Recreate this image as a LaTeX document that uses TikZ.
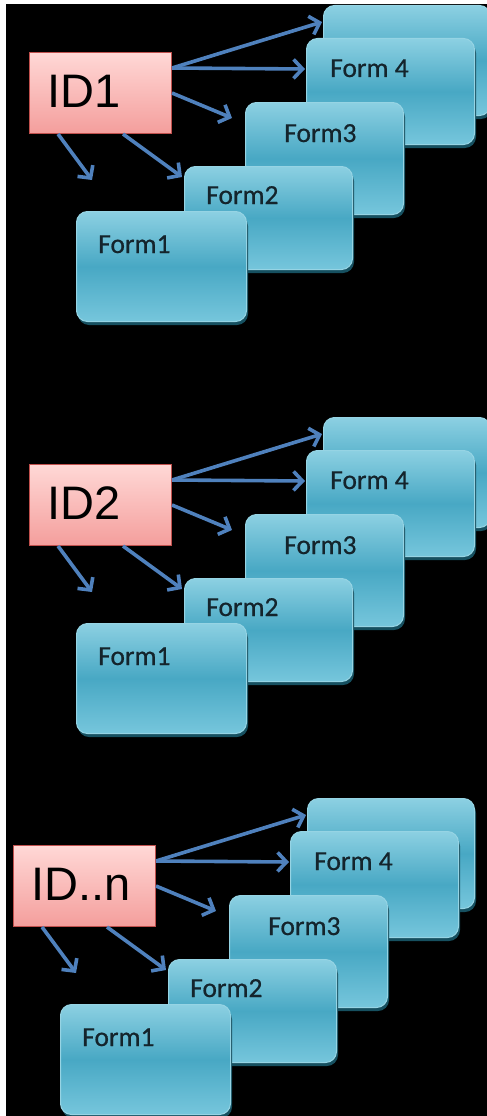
\documentclass[tikz,border=0pt]{standalone}
\usepackage{fontspec}
\setmainfont{Carlito}
\newfontfamily\formfont[FakeBold=0.6]{Carlito}
\newfontfamily\arialfont{Liberation Sans}
\usetikzlibrary{arrows.meta,shadows,calc}
\definecolor{arrowblue}{RGB}{79,129,189}
\definecolor{boxtop}{RGB}{140,208,226}
\definecolor{boxmid}{RGB}{72,168,196}
\definecolor{boxbot}{RGB}{118,198,220}
\definecolor{boxline}{RGB}{150,212,228}
\definecolor{boxshadow}{RGB}{22,80,96}
\definecolor{idtop}{RGB}{255,216,214}
\definecolor{idbot}{RGB}{244,158,156}
\definecolor{idline}{RGB}{192,80,77}
\definecolor{formink}{RGB}{20,36,44}
\tikzset{
  formbox/.style={draw=boxline, line width=1pt, rounded corners=11pt,
    top color=boxtop, bottom color=boxbot, middle color=boxmid,
    anchor=north west, inner sep=0pt,
    drop shadow={shadow xshift=1.5pt, shadow yshift=-3.5pt, fill=boxshadow, opacity=1}},
  formtext/.style={font=\formfont\fontsize{27.5}{32}\selectfont, text=formink, anchor=base west, inner sep=0pt},
  idbox/.style={draw=idline, line width=1pt, top color=idtop, bottom color=idbot,
    anchor=north west, inner sep=0pt, minimum width=142pt, minimum height=81pt},
  idtext/.style={font=\arialfont\fontsize{47}{52}\selectfont, text=black, anchor=base west, inner sep=0pt},
  link/.style={draw=arrowblue, line width=3.6pt, -{Straight Barb[length=9pt,width=19pt]}},
}
\newcommand\drawgroup[4]{%
  \begin{scope}[shift={(#3,#4)}]
    \node[formbox, minimum width=167pt, minimum height=110pt] (bk#1) at (323,5) {};
    \node[formbox, minimum width=168pt, minimum height=106pt] (fd#1) at (306,38) {};
    \node[formtext] (tfd#1) at ([shift={(24,39)}]fd#1.north west) {Form 4};
    \node[formbox, minimum width=158pt, minimum height=112pt] (fc#1) at (245,102) {};
    \node[formtext] (tfc#1) at ([shift={(39,40)}]fc#1.north west) {Form3};
    \node[formbox, minimum width=168pt, minimum height=103pt] (fb#1) at (184,166) {};
    \node[formtext] (tfb#1) at ([shift={(22,38)}]fb#1.north west) {Form2};
    \node[formbox, minimum width=170pt, minimum height=110pt] (fa#1) at (76,211) {};
    \node[formtext] (tfa#1) at ([shift={(22,42)}]fa#1.north west) {Form1};
    \node[idbox] (id#1) at (29,52) {};
    \node[idtext] (tid#1) at ([shift={(18,55)}]id#1.north west) {#2};
    \coordinate (ea#1) at (322,22);
    \coordinate (eb#1) at (305,69);
    \coordinate (ec#1) at (232,118);
    \coordinate (ed#1) at (182,177);
    \coordinate (ee#1) at (92,180);
    \draw[link] ([yshift=-16pt]id#1.north east) -- (ea#1);
    \draw[link] ([yshift=-16pt]id#1.north east) -- (eb#1);
    \draw[link] ([yshift=-41pt]id#1.north east) -- (ec#1);
    \draw[link] ([xshift=94pt]id#1.south west) -- (ed#1);
    \draw[link] ([xshift=29pt]id#1.south west) -- (ee#1);
  \end{scope}%
}
\begin{document}
\begin{tikzpicture}[x=1pt,y=-1pt]
  \useasboundingbox (0,0) rectangle (487,1116);
  \fill[white] (0,0) rectangle (487,1116);
  \fill[black] (6,4) rectangle (487,1116);
  \begin{scope}
    \clip (0,0) rectangle (487,1116);
    \drawgroup{a}{ID1}{0}{0}
    \drawgroup{b}{ID2}{0}{412}
    \drawgroup{c}{ID..n}{-16}{793}
  \end{scope}
\end{tikzpicture}
\end{document}
